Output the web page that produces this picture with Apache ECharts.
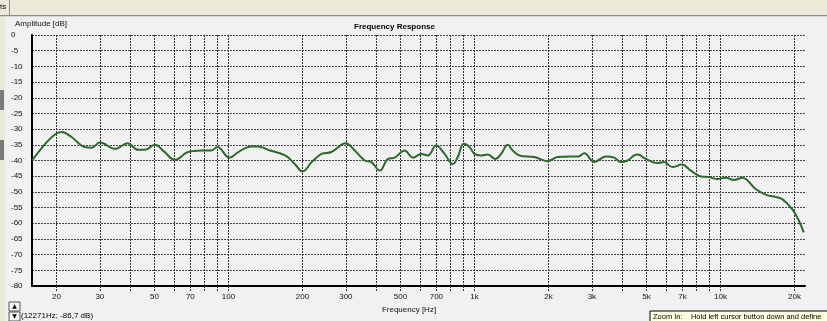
<!DOCTYPE html>
<html>
<head>
<meta charset="utf-8">
<script src="https://cdn.jsdelivr.net/npm/echarts@6/dist/echarts.min.js"></script>
<style>
html,body{margin:0;padding:0;background:#f1f1f1;}
#c{width:827px;height:321px;}
</style>
</head>
<body>
<div id="c"></div>
<script>
// Frequency [Hz]
const freqs = [15.9,18.0,19.7,21.0,23.0,26.1,27.8,30.0,34.7,38.9,42.9,45.8,50.2,55,60.5,68.5,77.6,85.2,90.1,101,
  109.6,124,132,145,170,186,200,218,239,262,300,326,358,381,412,445,474,520,562,608,646,699,756,817,855,905,954,
  1000,1065,1132,1213,1283,1365,1430,1523,1751,1983,2177,2468,2642,2794,3068,3421,3698,3936,4187,4458,4598,4973,
  5541,5899,6376,6961,7572,8312,8980,9705,10498,11344,12259,13893,15256,16482,17815,19560,20820,21810];
// Amplitude [dB]
const amps = [-40.0,-34.7,-31.7,-30.9,-32.5,-35.7,-35.9,-34.3,-36.3,-34.5,-36.6,-36.6,-35.0,-37.3,-39.8,-37.3,-36.8,-36.8,-35.7,-39.1,
  -37.3,-35.5,-35.5,-36.6,-38.4,-41.1,-43.5,-40.5,-37.9,-37.3,-34.5,-36.8,-40.0,-40.5,-43.2,-39.5,-39.1,-36.8,-39.1,-37.9,-38.4,-35.2,-37.9,-41.1,-38.9,-34.7,-35.7,
  -37.9,-38.4,-38.1,-39.5,-37.9,-35.0,-36.8,-38.4,-38.9,-40.2,-38.9,-38.7,-38.7,-37.7,-40.5,-38.7,-39.1,-40.5,-40.0,-38.4,-38.1,-39.5,
  -40.8,-40.5,-42.1,-41.3,-43.2,-45.1,-45.3,-45.9,-45.5,-46.2,-45.5,-49.1,-50.9,-51.5,-52.3,-55.5,-59.2,-62.9];
// grid / tick positions
const xGridTicks = [20,30,40,50,60,70,80,90,100,200,300,400,500,600,700,800,900,1000,2000,3000,4000,5000,6000,7000,8000,9000,10000,20000];
const xLabelTicks = [20,30,50,70,100,200,300,500,700,1000,2000,3000,5000,7000,10000,20000];

const FONT = 'Liberation Sans, Arial, sans-serif';
const chart = echarts.init(document.getElementById('c'), null, {renderer:'canvas'});
const data = freqs.map((f,i)=>[f, amps[i]]);

chart.setOption({
  backgroundColor: '#f1f1f1',
  animation: false,
  title: {
    text: 'Frequency Response',
    left: 349, top: 18,
    textStyle: {fontFamily: FONT, fontSize: 8, fontWeight: 'bold', color: '#000'}
  },
  grid: {left: 32, right: 22, top: 35, bottom: 35, containLabel: false},
  xAxis: {
    type: 'log', logBase: 10, min: 15.9, max: 22050,
    name: 'Frequency [Hz]', nameLocation: 'middle', nameGap: 16,
    nameTextStyle: {fontFamily: FONT, fontSize: 8, color: '#111', padding: [0, 19, 0, 0]},
    axisLine: {show: true, onZero: false, lineStyle: {color: '#000', width: 2}},
    axisTick: {show: true, customValues: xGridTicks, length: 5, inside: false, lineStyle: {color: '#333', width: 1, type: [2,1]}},
    minorTick: {show: false},
    axisLabel: {customValues: xLabelTicks, margin: 7, fontFamily: FONT, fontSize: 8, color: '#111',
      formatter: v => v >= 1000 ? (v/1000) + 'k' : String(v)},
    splitLine: {show: true, lineStyle: {color: '#333', width: 1, type: [2,1]}}
  },
  yAxis: {
    type: 'value', min: -80, max: 0, interval: 5,
    name: 'Amplitude [dB]', nameLocation: 'end', nameGap: 7,
    nameTextStyle: {fontFamily: FONT, fontSize: 8, color: '#111', align: 'left', padding: [0,0,0,-17]},
    axisLine: {show: true, lineStyle: {color: '#000', width: 2}},
    axisTick: {show: false},
    axisLabel: {align: 'left', margin: 21, fontFamily: FONT, fontSize: 8, color: '#111'},
    splitLine: {show: true, lineStyle: {color: '#444', width: 1, type: [2,1]}}
  },
  graphic: [
    {type: 'rect', shape: {x: 0, y: 0, width: 827, height: 15}, style: {fill: '#ece9d8'}, z: 10},
    {type: 'rect', shape: {x: 0, y: 15, width: 827, height: 1}, style: {fill: '#8d8c86'}, z: 10},
    {type: 'rect', shape: {x: 0, y: 16, width: 827, height: 1}, style: {fill: '#d8d6cc'}, z: 10},
    {type: 'rect', shape: {x: 9, y: 0, width: 1, height: 15}, style: {fill: '#8d8c86'}, z: 11},
    {type: 'text', left: 0, top: 3, style: {text: 'ts', fontFamily: FONT, fontSize: 8, fill: '#000'}, z: 11},
    {type: 'rect', shape: {x: 0, y: 17, width: 5, height: 304}, style: {fill: '#ece9d8'}, z: 10},
    {type: 'rect', shape: {x: 0, y: 90, width: 4, height: 20}, style: {fill: '#7a7a7a'}, z: 11},
    {type: 'rect', shape: {x: 0, y: 140, width: 4, height: 20}, style: {fill: '#7a7a7a'}, z: 11},
    {type: 'rect', shape: {x: 9, y: 302, width: 11, height: 9}, style: {fill: '#f4f3ee', stroke: '#555', lineWidth: 1}, z: 10},
    {type: 'rect', shape: {x: 9, y: 312, width: 11, height: 9}, style: {fill: '#f4f3ee', stroke: '#555', lineWidth: 1}, z: 10},
    {type: 'text', x: 14.5, y: 306.5, style: {text: '▲', fontFamily: 'DejaVu Sans', fontSize: 6, fill: '#000', align: 'center', verticalAlign: 'middle'}, z: 11},
    {type: 'text', x: 14.5, y: 316.5, style: {text: '▼', fontFamily: 'DejaVu Sans', fontSize: 6, fill: '#000', align: 'center', verticalAlign: 'middle'}, z: 11},
    {type: 'text', x: 21, y: 316, style: {text: '(12271Hz; -86,7 dB)', fontFamily: FONT, fontSize: 8, fill: '#000', verticalAlign: 'middle'}, z: 11},
    {type: 'rect', shape: {x: 650, y: 311, width: 180, height: 14}, style: {fill: '#ffffe1', stroke: '#000', lineWidth: 1}, z: 10},
    {type: 'text', x: 653, y: 317, style: {text: 'Zoom In:    Hold left cursor button down and define', fontFamily: FONT, fontSize: 7.5, fill: '#000', verticalAlign: 'middle'}, z: 11}
  ],
  series: [{
    type: 'line',
    data: data,
    smooth: 0.4,
    symbol: 'none',
    lineStyle: {color: '#2c6a2c', width: 2},
    z: 5
  }]
});
</script>
</body>
</html>
